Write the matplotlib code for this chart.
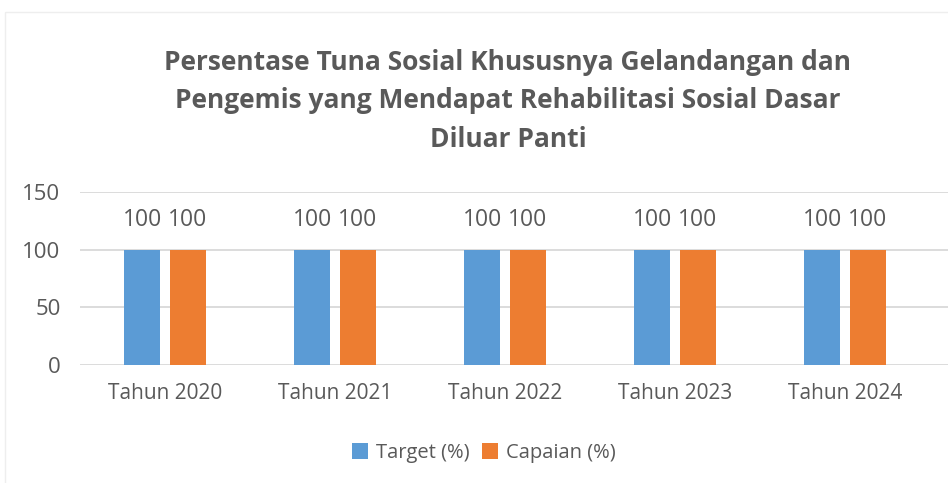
import numpy as np
import matplotlib.pyplot as plt
from matplotlib.patches import Rectangle

categories = ["Tahun 2020", "Tahun 2021", "Tahun 2022", "Tahun 2023", "Tahun 2024"]
target = [100, 100, 100, 100, 100]
capaian = [100, 100, 100, 100, 100]
series_names = ["Target (%)", "Capaian (%)"]
yticks = [0, 50, 100, 150]
title = ("Persentase Tuna Sosial Khususnya Gelandangan dan\n"
         "Pengemis yang Mendapat Rehabilitasi Sosial Dasar\n"
         "Diluar Panti")

blue = "#5B9BD5"
orange = "#ED7D31"
grey = "#595959"
grid = "#D9D9D9"

plt.rcParams['font.family'] = ['Open Sans', 'DejaVu Sans']

fig = plt.figure(figsize=(9.48, 4.83), dpi=100)
ax = fig.add_axes([80 / 948, 1 - 365 / 483, 868 / 948, 173 / 483])

# faint chart-area frame like the original
fig.patches.append(Rectangle((5 / 948, -0.1), 1.1, 1 - 12 / 483 + 0.1,
                             transform=fig.transFigure, fill=False,
                             edgecolor="#EEEEEE", linewidth=1))

x = np.arange(len(categories))
w = 0.21
off = 0.135
b1 = ax.bar(x - off, target, w, color=blue, label=series_names[0], zorder=3)
b2 = ax.bar(x + off, capaian, w, color=orange, label=series_names[1], zorder=3)
for bars in (b1, b2):
    ax.bar_label(bars, padding=13, fontsize=16.5, color=grey)

ax.set_xlim(-0.5, len(categories) - 0.5 + 18 / 170)
ax.set_ylim(0, 150)
ax.set_yticks(yticks)
ax.set_xticks(x)
ax.set_xticklabels(categories, fontsize=15, color=grey)
ax.tick_params(axis="y", labelsize=16, labelcolor=grey, length=0, pad=14)
ax.tick_params(axis="x", length=0, pad=13)
ax.grid(axis="y", color=grid, linewidth=1.3, zorder=0)
for s in ax.spines.values():
    s.set_visible(False)

fig.text(508 / 948, 1 - 101 / 483, title, ha="center", va="center",
         fontsize=19, fontweight="bold", color=grey, linespacing=1.55)

fig.legend(loc="center", bbox_to_anchor=(484 / 948, 1 - 453 / 483), ncol=2,
           frameon=False, fontsize=14.5, labelcolor=grey, handlelength=0.8,
           handleheight=0.8, handletextpad=0.4, columnspacing=0.6)

fig.savefig("out.png", dpi=100)
